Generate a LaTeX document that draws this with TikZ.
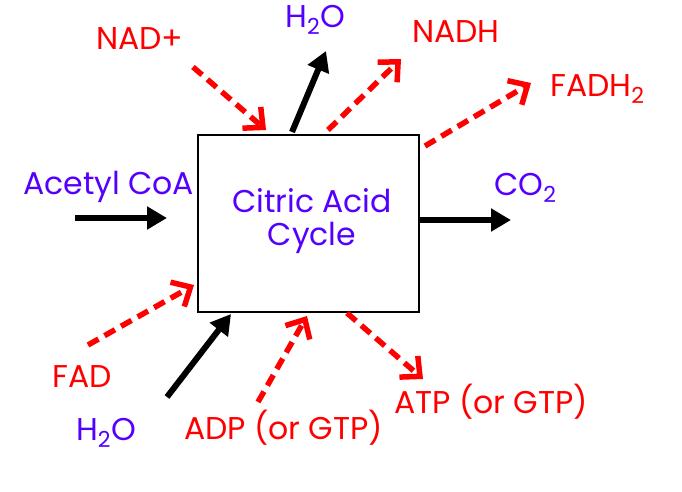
\documentclass[tikz,border=0pt]{standalone}
\usepackage{fontspec}
\setmainfont{Poppins}
\usetikzlibrary{arrows.meta}
\definecolor{myred}{RGB}{255,0,0}
\definecolor{myblue}{RGB}{85,0,255}
\tikzset{
  txtsz/.style={font=\fontsize{31.5}{33}\selectfont},
  lbl/.style={txtsz, inner sep=0pt, anchor=base west},
  redl/.style={lbl, text=myred},
  bluel/.style={lbl, text=myblue},
  blk/.style={line width=6pt, draw=black, -{Triangle[length=20pt,width=22pt]}},
  rda/.style={line width=5.5pt, draw=myred, dash pattern=on 12pt off 7pt, -{Straight Barb[length=15pt,width=28pt,line width=5.5pt]}},
}
\begin{document}
\begin{tikzpicture}[x=1pt,y=-1pt]
\useasboundingbox (0,0) rectangle (682,491);
\node[draw=black, line width=2pt, minimum width=221pt, minimum height=177pt, anchor=north west] (box) at (197,134) {};
\node[bluel, align=center, anchor=center] (cac) at (312,221) {Citric Acid\\Cycle};
% labels
\node[redl] (nad) at (96,49) {NAD+};
\node[bluel] (h2ot) at (285,27) {H\textsubscript{2}O};
\node[redl] (nadh) at (412,42) {NADH};
\node[redl] (fadh) at (550,96) {FADH\textsubscript{2}};
\node[bluel] (acoa) at (23,194) {Acetyl CoA};
\node[bluel] (co2) at (494,195) {CO\textsubscript{2}};
\node[redl] (fad) at (52,387) {FAD};
\node[bluel] (h2ob) at (76,440) {H\textsubscript{2}O};
\node[redl] (adp) at (184,439) {ADP (or GTP)};
\node[redl] (atp) at (394,413) {ATP (or GTP)};
% arrow end coordinates
\coordinate (a1s) at (75,218); \coordinate (a1e) at (167,218);
\coordinate (a2s) at (418,220); \coordinate (a2e) at (511,220);
\coordinate (a3s) at (292,132); \coordinate (a3e) at (326,51);
\coordinate (a4s) at (193,67); \coordinate (a4e) at (266,130);
\coordinate (a5s) at (328,130); \coordinate (a5e) at (401,59);
\coordinate (a6s) at (425,146); \coordinate (a6e) at (531,83);
\coordinate (a7s) at (88,345); \coordinate (a7e) at (194,285);
\coordinate (a8s) at (167,397); \coordinate (a8e) at (231,314);
\coordinate (a9s) at (258,402); \coordinate (a9e) at (307,316);
\coordinate (a10s) at (347,313); \coordinate (a10e) at (423,379);
\draw[blk] (a1s) -- (a1e);
\draw[blk] (a2s) -- (a2e);
\draw[blk] (a3s) -- (a3e);
\draw[blk] (a8s) -- (a8e);
\draw[rda] (a4s) -- (a4e);
\draw[rda] (a5s) -- (a5e);
\draw[rda] (a6s) -- (a6e);
\draw[rda] (a7s) -- (a7e);
\draw[rda] (a9s) -- (a9e);
\draw[rda] (a10s) -- (a10e);
\end{tikzpicture}
\end{document}
